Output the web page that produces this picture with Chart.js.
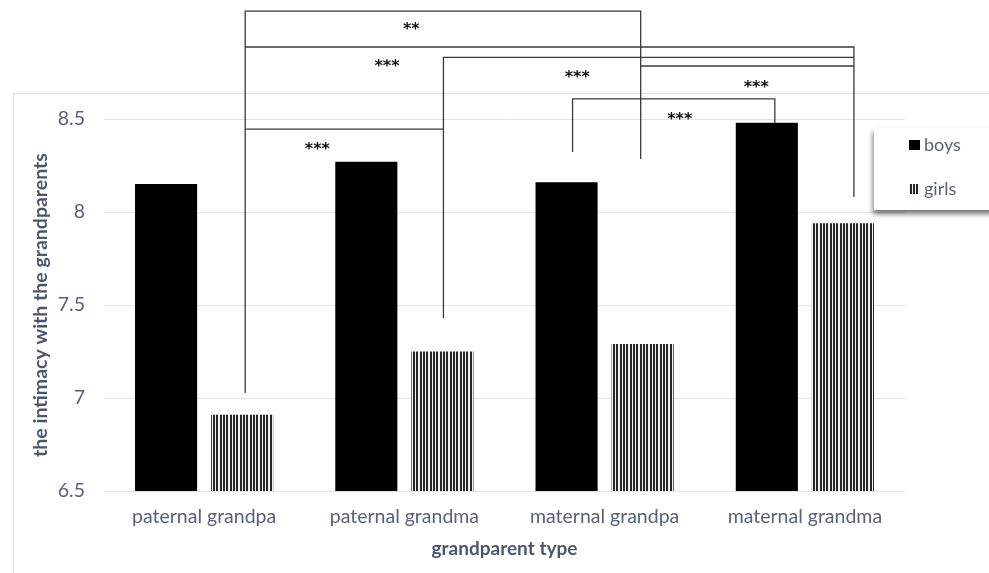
<!DOCTYPE html>
<html><head><meta charset="utf-8">
<script src="https://cdn.jsdelivr.net/npm/chart.js@4.4.1/dist/chart.umd.min.js"></script>
<style>html,body{margin:0;padding:0;background:#fff;}</style>
</head><body>
<canvas id="c" width="989" height="573"></canvas>
<script>
// ---- data ----
const categories = ['paternal grandpa', 'paternal grandma', 'maternal grandpa', 'maternal grandma'];
const seriesNames = ['boys', 'girls'];
const boysValues = [8.15, 8.27, 8.16, 8.48];
const girlsValues = [6.91, 7.25, 7.29, 7.94];
const yTicks = [6.5, 7, 7.5, 8, 8.5];
const xTitle = 'grandparent type';
const yTitle = 'the intimacy with the grandparents';

// significance brackets (ends reference [category index, series index]; levels in y-axis units)
const sigLabels = ['**', '***', '***', '***', '***', '***'];
const sigFrom = [[0, 1], [0, 1], [1, 1], [2, 1], [0, 1], [2, 0]];
const sigTo = [[2, 1], [3, 1], [3, 1], [3, 1], [1, 1], [3, 0]];
const sigLevels = [9.08, 8.887, 8.831, 8.785, 8.446, 8.608];
const sigFromEnds = [7.027, null, 7.43, null, null, 8.323];
const sigToEnds = [8.285, 8.081, null, null, null, 8.478];
const sigLabelLevels = [9.0, 8.80, 8.742, 8.688, 8.355, 8.516];

// ---- styles ----
const TXT = '#56627a';
const TITLE = '#4a566c';
const FONT = 'Lato, "Open Sans", sans-serif';
const sigFromNudge = [3, 3, 1, -2, 3, 6];
const sigToNudge = [-2, 11, 11, 11, 1, 8];
const sigLabelFrac = [0.42, 0.233, 0.326, 0.542, 0.364, 0.53];

const canvas = document.getElementById('c');
const ctx0 = canvas.getContext('2d');

function stripePattern() {
  const c = document.createElement('canvas');
  c.width = 10; c.height = 4;
  const g = c.getContext('2d');
  g.fillStyle = '#f2f2f2'; g.fillRect(0, 0, 10, 4);
  g.fillStyle = '#262626';
  g.fillRect(0, 0, 2, 4); g.fillRect(3, 0, 2, 4); g.fillRect(6, 0, 2, 4);
  return ctx0.createPattern(c, 'repeat');
}
const stripes = stripePattern();

const framePlugin = {
  id: 'frame',
  beforeDraw(chart) {
    const ctx = chart.ctx;
    ctx.save();
    ctx.strokeStyle = '#dde1e7';
    ctx.lineWidth = 1;
    ctx.strokeRect(13.5, 93.5, 1000, 600);
    ctx.restore();
  }
};

const sigPlugin = {
  id: 'sig',
  afterDatasetsDraw(chart) {
    const ctx = chart.ctx;
    const y = chart.scales.y;
    const px = (ref, nudge) => chart.getDatasetMeta(ref[1]).data[ref[0]].x + nudge;
    ctx.save();
    ctx.strokeStyle = '#3a3a3a';
    ctx.lineWidth = 1.3;
    for (let i = 0; i < sigLabels.length; i++) {
      const x1 = px(sigFrom[i], sigFromNudge[i]);
      const x2 = px(sigTo[i], sigToNudge[i]);
      const yl = y.getPixelForValue(sigLevels[i]);
      const y1 = sigFromEnds[i] == null ? yl : y.getPixelForValue(sigFromEnds[i]);
      const y2 = sigToEnds[i] == null ? yl : y.getPixelForValue(sigToEnds[i]);
      ctx.beginPath();
      ctx.moveTo(x1, y1); ctx.lineTo(x1, yl); ctx.lineTo(x2, yl); ctx.lineTo(x2, y2);
      ctx.stroke();
      ctx.fillStyle = '#111';
      ctx.font = 'bold 16px "DejaVu Sans", sans-serif';
      ctx.textAlign = 'center';
      ctx.textBaseline = 'middle';
      ctx.fillText(sigLabels[i], x1 + (x2 - x1) * sigLabelFrac[i], y.getPixelForValue(sigLabelLevels[i]) + 4);
    }
    ctx.restore();
  }
};

const legendPlugin = {
  id: 'customLegend',
  afterDraw(chart) {
    const ctx = chart.ctx;
    ctx.save();
    ctx.shadowColor = 'rgba(0,0,0,0.55)';
    ctx.shadowBlur = 5;
    ctx.shadowOffsetX = -1;
    ctx.shadowOffsetY = 4;
    ctx.fillStyle = '#fff';
    ctx.fillRect(874, 128, 130, 82);
    ctx.restore();
    ctx.save();
    const fills = ['#000', stripes];
    const ys = [145, 189];
    ctx.font = '18px ' + FONT;
    ctx.textBaseline = 'middle';
    ctx.textAlign = 'left';
    for (let i = 0; i < seriesNames.length; i++) {
      ctx.fillStyle = fills[i];
      ctx.fillRect(909, ys[i] - 5, 11, 10);
      ctx.fillStyle = TXT;
      ctx.fillText(seriesNames[i], 924, ys[i]);
    }
    ctx.restore();
  }
};

new Chart(canvas, {
  type: 'bar',
  data: {
    labels: categories,
    datasets: [
      { label: seriesNames[0], data: boysValues, backgroundColor: '#000', borderWidth: 0 },
      { label: seriesNames[1], data: girlsValues, backgroundColor: stripes, borderWidth: 0 }
    ]
  },
  options: {
    responsive: false,
    animation: false,
    devicePixelRatio: 1,
    categoryPercentage: 0.76,
    barPercentage: 0.816,
    layout: { padding: { top: 119, right: 84, left: 0, bottom: 0 } },
    plugins: { legend: { display: false }, tooltip: { enabled: false } },
    scales: {
      x: {
        grid: { display: false, drawTicks: false },
        border: { display: false },
        ticks: { color: TXT, font: { family: FONT, size: 19.5 }, padding: 14, maxRotation: 0 },
        title: { display: true, text: xTitle, color: TITLE, font: { family: FONT, size: 19, weight: 'bold' }, padding: { top: 0, bottom: 13 } },
        afterFit(s) { s.height = 82; }
      },
      y: {
        min: 6.5, max: 8.5,
        afterBuildTicks(s) { s.ticks = yTicks.map(v => ({ value: v })); },
        grid: { color: '#dfe3ea', drawTicks: false, lineWidth: 1 },
        border: { display: false },
        ticks: { color: TXT, font: { family: FONT, size: 19.5 }, padding: 19, callback: v => String(v) },
        title: { display: true, text: yTitle, color: TITLE, font: { family: FONT, size: 19.5, weight: 'bold' }, padding: { top: 29, bottom: 0 } },
        afterFit(s) { s.width = 104; }
      }
    }
  },
  plugins: [framePlugin, sigPlugin, legendPlugin]
});
</script>
</body></html>
